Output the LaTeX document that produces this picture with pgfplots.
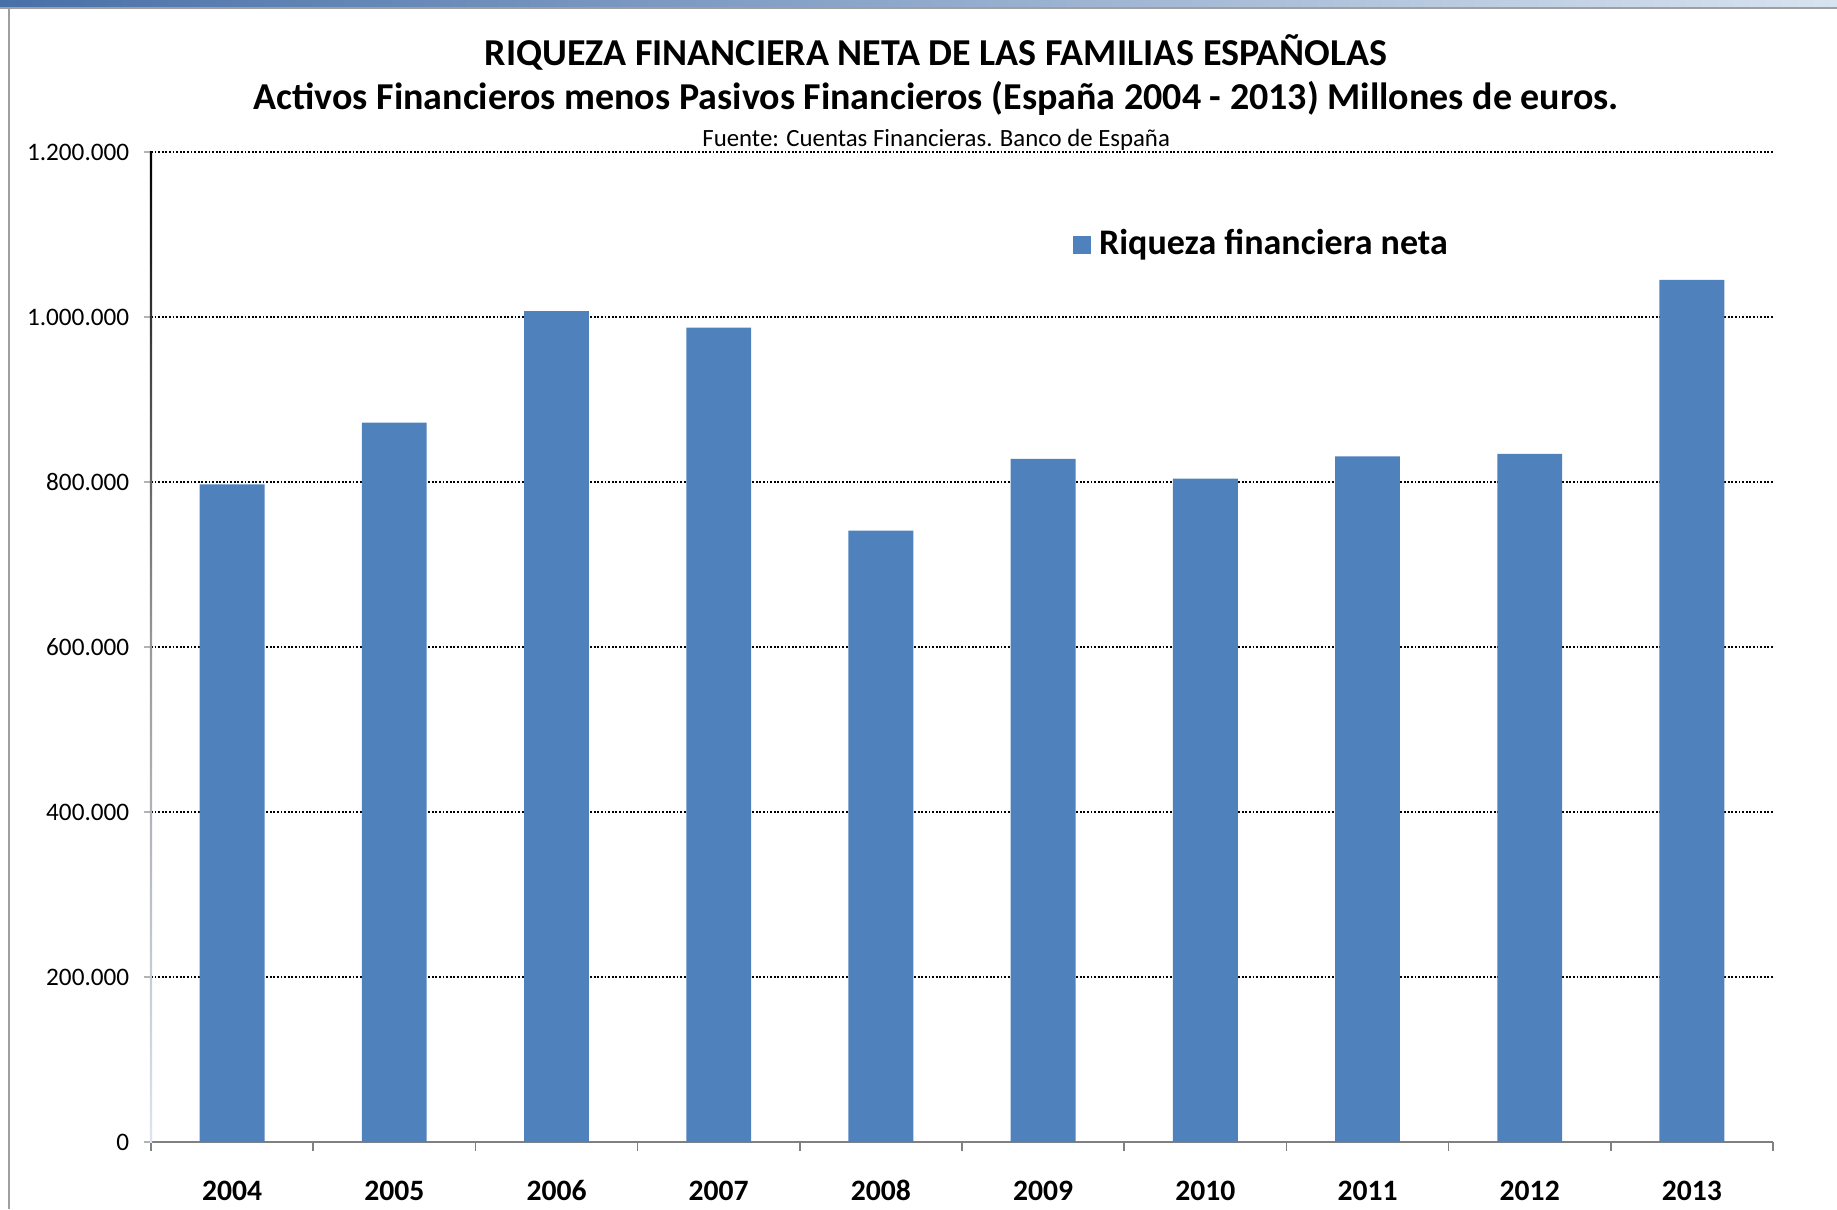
\documentclass[border=0pt]{standalone}
\usepackage{pgfplots}
\pgfplotsset{compat=1.18}
\usepackage{fontspec}
\setmainfont{Carlito}
\definecolor{barblue}{RGB}{79,129,189}
\definecolor{topL}{RGB}{72,112,168}
\definecolor{topR}{RGB}{216,227,240}
\definecolor{axgray}{RGB}{128,128,128}
\definecolor{ylow}{RGB}{221,228,242}
\begin{document}
\begin{tikzpicture}
\useasboundingbox (-37.75pt,-16.75pt) rectangle (421.5pt,285.5pt);
\shade[left color=topL, right color=topR] (-37.75pt,283.75pt) rectangle (421.5pt,285.5pt);
\fill[gray!75] (-37.75pt,283.25pt) rectangle (421.5pt,283.75pt);
\fill[gray!75] (-35.75pt,-16.75pt) rectangle (-35.25pt,283.25pt);
\begin{axis}[
  at={(0pt,0pt)}, anchor=south west,
  scale only axis, width=405.5pt, height=247.5pt,
  xmin=-0.5, xmax=9.5, ymin=0, ymax=1200000,
  axis lines*=left,
  x axis line style={draw=axgray, line width=0.6pt},
  y axis line style={draw=none},
  tick align=outside,
  xtick={0,...,9},
  xticklabels={2004,2005,2006,2007,2008,2009,2010,2011,2012,2013},
  minor xtick={-0.5,0.5,...,9.5},
  major x tick style={draw=none},
  minor x tick style={draw=axgray, line width=0.4pt},
  minor tick length=2.3pt,
  major tick length=1.75pt,
  ytick={0,200000,400000,600000,800000,1000000,1200000},
  yticklabels={0,200.000,400.000,600.000,800.000,1.000.000,1.200.000},
  major y tick style={draw=axgray!60, line width=0.4pt},
  scaled y ticks=false,
  yticklabel style={font=\fontsize{6.3}{7}\selectfont, inner sep=0pt, anchor=east, xshift=-3.5pt},
  xticklabel style={font=\bfseries\fontsize{7.4}{8}\selectfont, inner sep=0pt, anchor=base, yshift=-12.8pt},
  ymajorgrids,
  major grid style={black, line width=0.35pt, dash pattern=on 0.45pt off 0.45pt},
  legend style={at={(0.568,0.906)}, anchor=west, draw=none, fill=none, inner sep=0pt,
    font=\bfseries\fontsize{9}{10}\selectfont},
  legend image code/.code={\fill[barblue] (0pt,-2.25pt) rectangle (4.5pt,2.25pt);},
  every legend entry/.append style={xshift=1.2pt},
]
\addplot[ybar, bar width=0.40, fill=barblue, draw=none] coordinates {
(0,797000) (1,872000) (2,1007000) (3,987000) (4,741000)
(5,828000) (6,804000) (7,831000) (8,834000) (9,1045000)};
\addlegendentry{Riqueza financiera neta}
\end{axis}
\shade[top color=black, bottom color=ylow, middle color=axgray!80] (-0.3pt,0pt) rectangle (0.3pt,247.5pt);
\node[font=\bfseries\fontsize{9.5}{11}\selectfont] at (196.3pt,272.3pt) {RIQUEZA FINANCIERA NETA DE LAS FAMILIAS ESPAÑOLAS};
\node[font=\bfseries\fontsize{9.5}{11}\selectfont] at (196.3pt,261pt) {Activos Financieros menos Pasivos Financieros (España 2004 - 2013) Millones de euros.};
\node[font=\fontsize{6.2}{7}\selectfont] at (196.3pt,250.6pt) {Fuente: Cuentas Financieras. Banco de España};
\end{tikzpicture}
\end{document}
